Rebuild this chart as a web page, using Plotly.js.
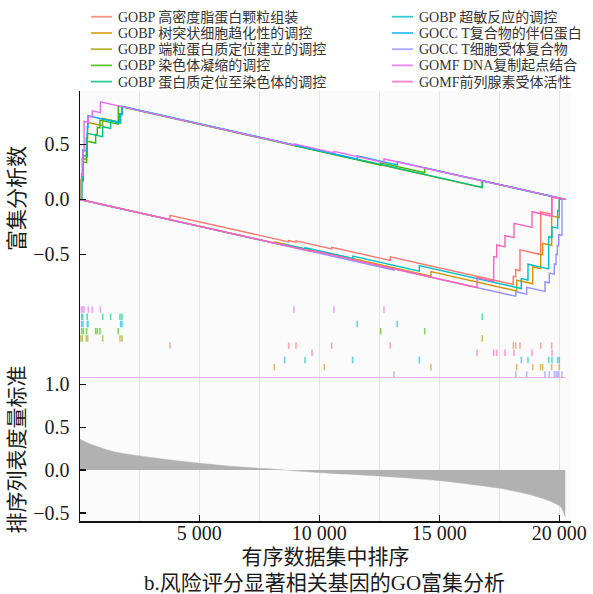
<!DOCTYPE html>
<html>
<head>
<meta charset="utf-8">
<script src="https://cdn.plot.ly/plotly-3.0.1.min.js"></script>
<style>
  html, body { margin: 0; padding: 0; background: #ffffff; }
  #chart { width: 593px; height: 594px; }
</style>
</head>
<body>
<div id="chart"></div>
<script>
// ---- Gene sets ----------------------------------------------------------
const setNames = [
  "GOBP 高密度脂蛋白颗粒组装",
  "GOBP 树突状细胞趋化性的调控",
  "GOBP 端粒蛋白质定位建立的调控",
  "GOBP 染色体凝缩的调控",
  "GOBP 蛋白质定位至染色体的调控",
  "GOBP 超敏反应的调控",
  "GOCC T复合物的伴侣蛋白",
  "GOCC T细胞受体复合物",
  "GOMF DNA复制起点结合",
  "GOMF前列腺素受体活性"
];
const setColors = ["#F8766D", "#D89000", "#A3A500", "#39B600", "#00BF7D",
                   "#00BFC4", "#00B0F6", "#9590FF", "#E76BF3", "#FF62BC"];

// ---- Running enrichment score (rank, score) per gene set -----------------
const hdlRank = [0, 3779, 3779, 8725, 8725, 9029, 9029, 10517, 10517, 12958, 12958, 18083, 18083, 18183, 18183, 18363, 18363, 19225, 19225, 19683, 19683, 20250];
const hdlES   = [0, -0.185, -0.145, -0.387, -0.375, -0.390, -0.378, -0.451, -0.436, -0.556, -0.523, -0.774, -0.700, -0.705, -0.640, -0.649, -0.460, -0.502, -0.113, -0.135, 0.020, 0];
const hdlHits = [3779, 8725, 9029, 10517, 12958, 18083, 18183, 18363, 19225, 19683];

const dcRank = [0, 8125, 8125, 10208, 10208, 14654, 14654, 18225, 18225, 18892, 18892, 19225, 19225, 19308, 19308, 19683, 19683, 20000, 20000, 20250];
const dcES   = [0, -0.398, -0.388, -0.490, -0.480, -0.698, -0.658, -0.833, -0.735, -0.768, -0.615, -0.631, -0.500, -0.504, -0.400, -0.418, -0.150, -0.166, 0.005, 0];
const dcHits = [8125, 10208, 14654, 18225, 18892, 19225, 19308, 19683, 20000];

const telRank = [0, 70, 70, 125, 125, 292, 292, 350, 350, 975, 975, 1696, 1696, 1779, 1779, 16790, 16790, 20250];
const telES   = [0, -0.003, 0.180, 0.177, 0.370, 0.362, 0.560, 0.557, 0.700, 0.669, 0.735, 0.700, 0.780, 0.776, 0.843, 0.107, 0.168, 0];
const telHits = [70, 125, 292, 350, 975, 1696, 1779, 16790];

const condRank = [0, 100, 100, 167, 167, 308, 308, 683, 683, 750, 750, 862, 862, 1625, 1625, 12558, 12558, 14392, 14392, 20250];
const condES   = [0, -0.005, 0.170, 0.167, 0.340, 0.333, 0.530, 0.512, 0.590, 0.586, 0.655, 0.650, 0.720, 0.683, 0.848, 0.312, 0.332, 0.242, 0.285, 0];
const condHits = [100, 167, 308, 683, 750, 862, 1625, 12558, 14392];

const chromRank = [0, 100, 100, 140, 140, 333, 333, 975, 975, 1308, 1308, 1696, 1696, 1779, 1779, 16790, 16790, 20250];
const chromES   = [0, -0.005, 0.200, 0.198, 0.400, 0.390, 0.600, 0.569, 0.660, 0.644, 0.720, 0.700, 0.780, 0.776, 0.845, 0.109, 0.170, 0];
const chromHits = [100, 140, 333, 975, 1308, 1696, 1779, 16790];

const hyperRank = [0, 8558, 8558, 9404, 9404, 11392, 11392, 14167, 14167, 18417, 18417, 18696, 18696, 19558, 19558, 19696, 19696, 19933, 19933, 20000, 20000, 20250];
const hyperES   = [0, -0.419, -0.409, -0.450, -0.440, -0.537, -0.517, -0.653, -0.603, -0.811, -0.720, -0.734, -0.590, -0.632, -0.340, -0.347, -0.250, -0.262, -0.100, -0.103, 0.005, 0];
const hyperHits = [8558, 9404, 11392, 14167, 18417, 18696, 19558, 19696, 19933, 20000];

const cctRank = [0, 100, 100, 154, 154, 333, 333, 363, 363, 1725, 1725, 1779, 1779, 11583, 11583, 13250, 13250, 20250];
const cctES   = [0, -0.005, 0.230, 0.227, 0.450, 0.441, 0.660, 0.658, 0.760, 0.693, 0.770, 0.767, 0.845, 0.365, 0.395, 0.313, 0.343, 0];
const cctHits = [100, 154, 333, 363, 1725, 1779, 11583, 13250];

const tcrRank = [0, 13113, 13113, 18183, 18183, 18642, 18642, 19404, 19404, 19583, 19583, 19792, 19792, 19863, 19863, 19917, 19917, 19975, 19975, 20113, 20113, 20250];
const tcrES   = [0, -0.643, -0.633, -0.881, -0.840, -0.862, -0.800, -0.837, -0.750, -0.759, -0.670, -0.680, -0.590, -0.593, -0.500, -0.503, -0.420, -0.423, -0.320, -0.327, 0.005, 0];
const tcrHits = [13113, 18183, 18642, 19404, 19583, 19792, 19863, 19917, 19975, 20113];

const oriRank = [0, 90, 90, 150, 150, 200, 200, 375, 375, 540, 540, 880, 880, 8946, 8946, 10612, 10612, 12696, 12696, 20250];
const oriES   = [0, -0.004, 0.220, 0.217, 0.440, 0.438, 0.710, 0.700, 0.755, 0.747, 0.805, 0.788, 0.887, 0.492, 0.505, 0.423, 0.436, 0.334, 0.367, 0];
const oriHits = [90, 150, 200, 375, 540, 880, 8946, 10612, 12696];

const pgRank = [0, 9696, 9696, 16571, 16571, 17267, 17267, 17392, 17392, 17738, 17738, 18113, 18113, 18863, 18863, 19696, 19696, 20250];
const pgES   = [0, -0.475, -0.465, -0.802, -0.712, -0.746, -0.520, -0.526, -0.415, -0.432, -0.331, -0.349, -0.218, -0.255, -0.113, -0.154, 0.018, 0];
const pgHits = [9696, 16571, 17267, 17392, 17738, 18113, 18863, 19696];

// ---- Ranked list metric --------------------------------------------------
const metricRank  = [0, 40, 490, 1430, 2540, 3800, 5030, 6170, 7530, 8540, 10050, 12530, 15060, 17530, 18800, 19590, 20060, 20250];
const metricValue = [0.38, 0.36, 0.30, 0.214, 0.164, 0.117, 0.078, 0.047, 0.020, 0.0, -0.031, -0.070, -0.125, -0.214, -0.290, -0.360, -0.430, -0.550];

// ---- Axis labels ---------------------------------------------------------
const xTickVals = [5000, 10000, 15000, 20000];
const xTickText = ["5 000", "10 000", "15 000", "20 000"];
const esTickVals = [-0.5, 0, 0.5];
const esTickText = ["\u22120.5", "0.0", "0.5"];
const metricTickVals = [-0.5, 0, 0.5, 1.0];
const metricTickText = ["\u22120.5", "0.0", "0.5", "1.0"];

// ---- Build traces --------------------------------------------------------
const curves = [
  [hdlRank, hdlES, hdlHits],
  [dcRank, dcES, dcHits],
  [telRank, telES, telHits],
  [condRank, condES, condHits],
  [chromRank, chromES, chromHits],
  [hyperRank, hyperES, hyperHits],
  [cctRank, cctES, cctHits],
  [tcrRank, tcrES, tcrHits],
  [oriRank, oriES, oriHits],
  [pgRank, pgES, pgHits]
];
// rug rows, listed from the top row downwards (indices into setNames)
const rugOrder = [8, 4, 6, 3, 2, 0, 9, 5, 1, 7];

const FONT = "'Liberation Serif', 'Noto Sans CJK SC', serif";
const traces = [];

curves.forEach((c, i) => {
  traces.push({
    type: "scatter", mode: "lines",
    x: c[0], y: c[1], xaxis: "x", yaxis: "y",
    name: setNames[i],
    line: { color: setColors[i], width: 1.4 },
    hoverinfo: "skip", showlegend: false
  });
});

rugOrder.forEach((setIdx, k) => {
  const row = rugOrder.length - 1 - k;
  const xs = [], ys = [];
  curves[setIdx][2].forEach(h => {
    xs.push(h, h, null);
    ys.push(row + 0.05, row + 0.95, null);
  });
  traces.push({
    type: "scatter", mode: "lines",
    x: xs, y: ys, xaxis: "x", yaxis: "y2",
    line: { color: setColors[setIdx], width: 1.6 },
    opacity: 0.6, hoverinfo: "skip", showlegend: false
  });
});

traces.push({
  type: "scatter", mode: "lines",
  x: metricRank, y: metricValue, xaxis: "x", yaxis: "y3",
  fill: "tozeroy", fillcolor: "#b1b1b1",
  line: { color: "#b1b1b1", width: 0.5, shape: "spline", smoothing: 0.6 },
  hoverinfo: "skip", showlegend: false
});

// ---- Layout --------------------------------------------------------------
const W = 593, H = 594;
const M = { l: 80, r: 22, t: 91, b: 73 };
const PW = W - M.l - M.r, PH = H - M.t - M.b;
const px2x = px => (px - M.l) / PW;
const py2y = py => (H - M.b - py) / PH;

const shapes = [{
  type: "line", xref: "x", yref: "y2",
  x0: 0, x1: metricRank[metricRank.length - 1], y0: 0, y1: 0,
  line: { color: "#d49ddd", width: 1.6 }
}];
const annotations = [{
  xref: "paper", yref: "paper", x: 0.497, y: py2y(583),
  xanchor: "center", yanchor: "middle", showarrow: false,
  text: "b.风险评分显著相关基因的GO富集分析",
  font: { family: FONT, size: 21, color: "#1a1a1a" }
}];

// legend: two columns of five entries
const legendCols = [91, 392];
const legendRows = [16.7, 33.0, 49.2, 65.4, 81.6];
setNames.forEach((name, i) => {
  const col = Math.floor(i / 5), row = i % 5;
  const lx = legendCols[col], ly = legendRows[row];
  shapes.push({
    type: "line", xref: "paper", yref: "paper",
    x0: px2x(lx), x1: px2x(lx + 21), y0: py2y(ly), y1: py2y(ly),
    line: { color: setColors[i], width: 1.8 }, opacity: 0.8
  });
  annotations.push({
    xref: "paper", yref: "paper", x: px2x(lx + 25), y: py2y(ly),
    xanchor: "left", yanchor: "middle", showarrow: false,
    text: name, font: { family: FONT, size: 14, color: "#333333" }
  });
});

const axisCommon = {
  showline: true, linecolor: "#111111", linewidth: 1.5,
  ticks: "inside", ticklen: 6, tickwidth: 1.5, tickcolor: "#111111",
  zeroline: false, showgrid: false,
  tickfont: { family: FONT, size: 20, color: "#1a1a1a" }
};

const layout = {
  width: W, height: H, margin: M,
  paper_bgcolor: "#ffffff", plot_bgcolor: "#fbfbfb",
  font: { family: FONT, size: 20, color: "#1a1a1a" },
  showlegend: false,
  xaxis: Object.assign({}, axisCommon, {
    anchor: "y3", range: [30, 20488],
    tickmode: "array", tickvals: xTickVals, ticktext: xTickText,
    ticklabelstandoff: -7,
    showgrid: true, gridcolor: "#e4e4e4", gridwidth: 1,
    minor: { dtick: 2500, tick0: 0, showgrid: true, gridcolor: "#e4e4e4", gridwidth: 1, ticks: "" },
    title: { text: "有序数据集中排序", font: { family: FONT, size: 21 }, standoff: 7 }
  }),
  yaxis: Object.assign({}, axisCommon, {
    domain: [0.5, 1], range: [-0.970, 0.985], anchor: "x",
    tickmode: "array", tickvals: esTickVals, ticktext: esTickText,
    ticklabelstandoff: 5,
    title: { text: "富集分析数", font: { family: FONT, size: 21 }, standoff: 3 }
  }),
  yaxis2: Object.assign({}, axisCommon, {
    domain: [0.3326, 0.5], range: [0, 10], anchor: "x",
    ticks: "", showticklabels: false
  }),
  yaxis3: Object.assign({}, axisCommon, {
    domain: [0, 0.3326], range: [-0.596, 1.076], anchor: "x",
    tickmode: "array", tickvals: metricTickVals, ticktext: metricTickText,
    ticklabelstandoff: 5,
    title: { text: "排序列表度量标准", font: { family: FONT, size: 21 }, standoff: 3 }
  }),
  shapes: shapes,
  annotations: annotations
};

Plotly.newPlot("chart", traces, layout, { displayModeBar: false, staticPlot: true });
</script>
</body>
</html>
